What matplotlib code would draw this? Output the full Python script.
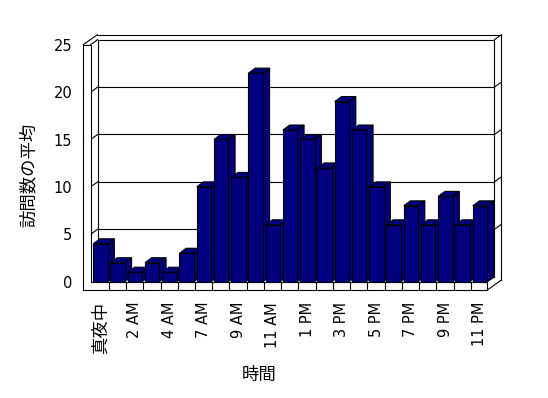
import numpy as np
import matplotlib.pyplot as plt
from matplotlib.patches import Polygon

plt.rcParams['font.family'] = ['DejaVu Sans', 'Noto Sans CJK JP']

hours = ['真夜中', '1 AM', '2 AM', '3 AM', '4 AM', '5 AM', '7 AM', '8 AM',
         '9 AM', '10 AM', '11 AM', '12 PM', '1 PM', '2 PM', '3 PM', '4 PM',
         '5 PM', '6 PM', '7 PM', '8 PM', '9 PM', '10 PM', '11 PM']
visits = [4, 2, 1, 2, 1, 3, 10, 15, 11, 22, 6, 16, 15, 12, 19, 16, 10, 6,
          8, 6, 9, 6, 8]
yticks = [0, 5, 10, 15, 20, 25]

W, H = 548, 398
fig = plt.figure(figsize=(W / 100, H / 100), dpi=100)

# pixel layout of the excel-like 3d box
px_x, px_y = 17.25, 9.48      # px per category / per unit
ox, oy = 91.5, 281.7          # px position of x=0, y=0
left, right, bottom, top_px = 83.3, 510, 290, 25
ax = fig.add_axes([left / W, (H - bottom) / H, (right - left) / W, (bottom - top_px) / H])
ax.set_xlim((left - ox) / px_x, (right - ox) / px_x)
ax.set_ylim((oy - bottom) / px_y, (oy - top_px) / px_y)
for s in ax.spines.values():
    s.set_visible(False)

n = len(visits)
DX, DY = 7 / px_x, 5 / px_y          # depth of the box
xo, yo = ax.get_xlim()[0], ax.get_ylim()[0]
x0, x1 = -0.05, n - 0.05
ytop = yticks[-1]
lw = 0.8


def seg(xs, ys, z=1):
    ax.plot(xs, ys, color='black', lw=lw, clip_on=False, zorder=z,
            solid_capstyle='projecting')


# floor plate + left wall front face
ax.add_patch(Polygon([(xo, yo), (x1, yo), (x1, 0), (x0, 0), (x0, ytop), (xo, ytop)],
                     closed=True, fc='white', ec='black', lw=lw, clip_on=False, zorder=1.5))
for k in range(1, n):
    seg([k, k], [yo, 0], 1.6)

# walls
seg([x0, x0 + DX], [ytop, ytop + DY])
seg([xo, xo + 2 * DX], [ytop, ytop + 2 * DY])
seg([xo + 2 * DX, x1 + 2 * DX], [ytop + 2 * DY, ytop + 2 * DY])
seg([x0 + DX, x1 + DX], [ytop + DY, ytop + DY])
seg([x1 + DX, x1 + 2 * DX], [ytop + DY, ytop + 2 * DY])
seg([x0 + DX, x0 + DX], [DY, ytop + DY])
seg([x1 + DX, x1 + DX], [DY, ytop + DY])
seg([x1 + 2 * DX, x1 + 2 * DX], [yo + 2 * DY, ytop + 2 * DY])
seg([x1, x1 + DX], [0, DY])
seg([x1, x1 + 2 * DX], [yo, yo + 2 * DY])
seg([x0 + DX, x1 + DX], [DY, DY])
for v in yticks[1:-1]:
    seg([xo, x0], [v, v])
    seg([x0, x0 + DX], [v, v + DY])
    seg([x0 + DX, x1 + DX], [v + DY, v + DY])
    seg([x1 + DX, x1 + 2 * DX], [v + DY, v + 2 * DY])

# 3d bars
bw, bdx, bdy = 0.835, 6.7 / px_x, 5 / px_y
bars = ax.bar(np.arange(n) + 0.1, visits, width=bw, align='edge',
              color='#000080', edgecolor='black', lw=lw)
for i, b in enumerate(bars):
    bx0, bx1, h = b.get_x(), b.get_x() + b.get_width(), b.get_height()
    z = 3 + i * 0.01
    b.set_zorder(z + 0.005)
    ax.add_patch(Polygon([(bx0, h), (bx1, h), (bx1 + bdx, h + bdy), (bx0 + bdx, h + bdy)],
                         closed=True, fc='#000080', ec='black', lw=lw, zorder=z))
    ax.add_patch(Polygon([(bx1, 0), (bx1, h), (bx1 + bdx, h + bdy), (bx1 + bdx, bdy)],
                         closed=True, fc='#000080', ec='black', lw=lw, zorder=z))

ax.set_yticks(yticks)
ax.tick_params(axis='y', length=0, pad=8, labelsize=10.5)
ax.set_xticks(np.arange(0, n, 2) + 0.5, hours[::2], rotation=90)
ax.tick_params(axis='x', length=0, pad=8.6, labelsize=10.5)
ax.get_xticklabels()[0].set_fontsize(12.5)

ax.set_xlabel('時間', fontsize=12.5, va='center')
ax.xaxis.set_label_coords((259 - left) / (right - left), (bottom - 375) / (bottom - top_px))
ax.set_ylabel('訪問数の平均', fontsize=12.5, va='center')
ax.yaxis.set_label_coords((28.5 - left) / (right - left), (bottom - 175) / (bottom - top_px))

fig.savefig('out.png', dpi=100)
